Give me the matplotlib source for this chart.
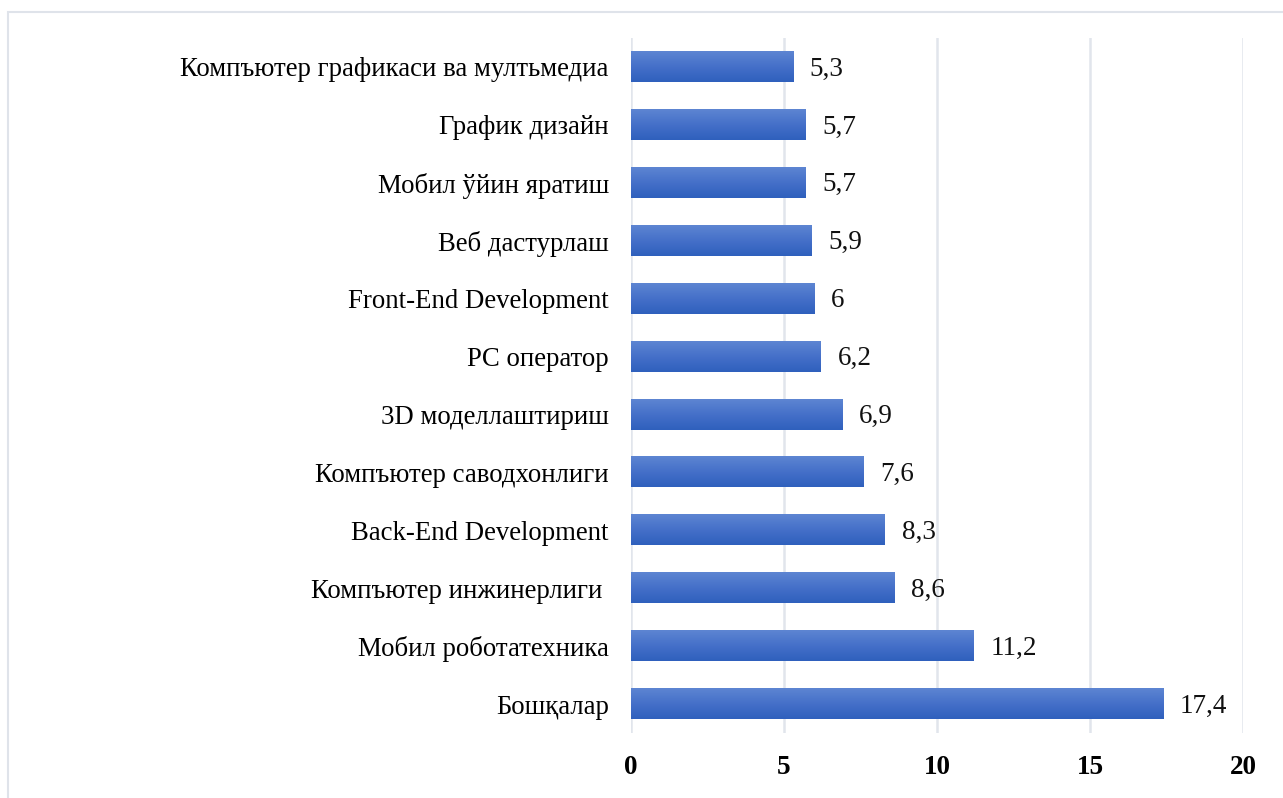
import matplotlib
matplotlib.use("Agg")
import matplotlib.pyplot as plt
import numpy as np
from matplotlib.patches import Rectangle
from matplotlib.colors import LinearSegmentedColormap

categories = [
    "Компъютер графикаси ва мултьмедиа",
    "График дизайн",
    "Мобил ўйин яратиш",
    "Веб дастурлаш",
    "Front-End Development",
    "PC оператор",
    "3D моделлаштириш",
    "Компъютер саводхонлиги",
    "Back-End Development",
    "Компъютер инжинерлиги ",
    "Мобил роботатехника",
    "Бошқалар",
]
values = [5.3, 5.7, 5.7, 5.9, 6.0, 6.2, 6.9, 7.6, 8.3, 8.6, 11.2, 17.4]
labels = ["5,3", "5,7", "5,7", "5,9", "6", "6,2", "6,9", "7,6", "8,3", "8,6", "11,2", "17,4"]
xticks = [0, 5, 10, 15, 20]

plt.rcParams['font.family'] = ['Liberation Serif', 'DejaVu Serif']

W, H = 1283, 798
fig = plt.figure(figsize=(W / 100, H / 100), dpi=100)
ax = fig.add_axes([631 / W, 1 - 733 / H, (1243 - 631) / W, (733 - 38) / H])

# figure border
fig.patches.append(Rectangle((8 / W, -0.1), 1.2, 1 - 12 / H + 0.1, transform=fig.transFigure,
                             fill=False, edgecolor='#dfe3ea', linewidth=1.5, zorder=0))

y = np.arange(len(categories))
bars = ax.barh(y, values, height=0.52, color='none', edgecolor='none', zorder=3)

# light at top, dark at bottom
cmap = LinearSegmentedColormap.from_list('g', ['#5d85d2', '#4570c9', '#2f60bd'])
grad = np.linspace(0, 1, 64).reshape(-1, 1)
for b in bars:
    x0, y0 = b.get_x(), b.get_y()
    w, h = b.get_width(), b.get_height()
    ax.imshow(grad, cmap=cmap, aspect='auto', extent=(x0, x0 + w, y0 + h, y0),
              origin='upper', zorder=3, interpolation='bicubic')

for b, lab in zip(bars, labels):
    ax.annotate(lab, (b.get_width(), b.get_y() + b.get_height() / 2),
                xytext=(12, -1.5), textcoords='offset points', va='center', ha='left',
                fontsize=19.5, color='#111111')

ax.set_xlim(0, 20)
ax.set_ylim(len(categories) - 0.5, -0.5)
ax.set_xticks(xticks)
ax.set_xticklabels([str(t) for t in xticks], fontsize=19.5, fontweight='bold')
ax.set_yticks(y)
ax.set_yticklabels(categories, fontsize=19.3)
ax.tick_params(axis='x', length=0, pad=16)
ax.tick_params(axis='y', length=0, pad=16)
ax.grid(axis='x', color='#e1e5ec', linewidth=1.8, zorder=0)
ax.set_axisbelow(True)
for s in ax.spines.values():
    s.set_visible(False)
ax.set_facecolor('none')

fig.savefig('out.png', dpi=100)
